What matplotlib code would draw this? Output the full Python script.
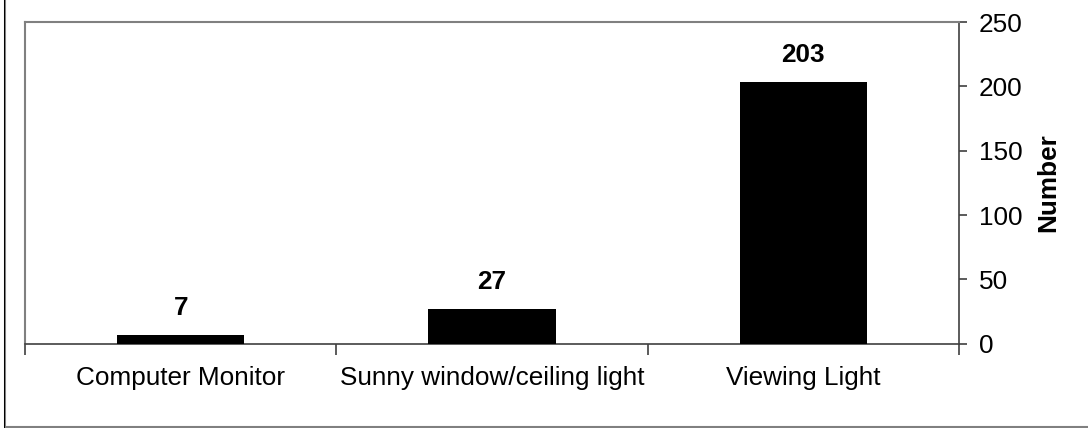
import matplotlib
matplotlib.use('Agg')
import matplotlib.pyplot as plt
from matplotlib.patches import Rectangle

# data
categories = ['Computer Monitor', 'Sunny window/ceiling light', 'Viewing Light']
counts = [7, 27, 203]
y_ticks = [0, 50, 100, 150, 200, 250]
y_label = 'Number'

plt.rcParams['font.family'] = ['Liberation Sans', 'DejaVu Sans']
font_size = 18.8
axis_color = '#404040'
frame_color = '#808080'

W, H = 1088, 428
fig = plt.figure(figsize=(W / 100, H / 100), dpi=100)
ax = fig.add_axes([25 / W, 1 - 343.7 / H, (959 - 25) / W, (343.7 - 22) / H])

positions = list(range(len(categories)))
bars = ax.bar(positions, counts, width=0.41, color='black', zorder=3)

# value labels above each bar
for bar, value in zip(bars, counts):
    ax.annotate(str(value), (bar.get_x() + bar.get_width() / 2, bar.get_height()),
                xytext=(0, 14.5), textcoords='offset points',
                ha='center', va='baseline', fontsize=font_size, fontweight='bold')

ax.set_xlim(-0.5, len(categories) - 0.5)
ax.set_ylim(0, 250)

# y axis on the right
ax.yaxis.tick_right()
ax.yaxis.set_label_position('right')
ax.set_yticks(y_ticks)
ax.tick_params(axis='y', which='major', direction='out', length=5.8, width=1.2,
               color=axis_color, labelsize=font_size, pad=8.5)
ax.set_ylabel(y_label, fontsize=font_size, fontweight='bold', labelpad=10)

# category boundaries as ticks, names centred between them
ax.set_xticks([p - 0.5 for p in positions] + [positions[-1] + 0.5])
ax.set_xticklabels([])
ax.set_xticks(positions, minor=True)
ax.set_xticklabels(categories, minor=True)
ax.tick_params(axis='x', which='major', direction='out', length=8, width=1.2, color=axis_color)
ax.tick_params(axis='x', which='minor', length=0, labelsize=font_size, pad=16)

# frame: gray plot area, darker axis lines
ax.spines['top'].set_color(frame_color)
ax.spines['left'].set_color(frame_color)
ax.spines['top'].set_linewidth(1.5)
ax.spines['left'].set_linewidth(1.5)
ax.spines['bottom'].set_color(axis_color)
ax.spines['right'].set_color(axis_color)
ax.spines['bottom'].set_linewidth(1.2)
ax.spines['right'].set_linewidth(1.2)

# outer chart border, cropped at top and right
fig.patches.append(Rectangle((4.5 / W, 1 - 427 / H), 1.2, 1.2, transform=fig.transFigure,
                             fill=False, edgecolor=frame_color, linewidth=1.5, zorder=0))
fig.patches.append(Rectangle((3.5 / W, 0), 1.5 / W, 1, transform=fig.transFigure,
                             color='black', linewidth=0, zorder=0))

fig.savefig('out.png', dpi=100)
